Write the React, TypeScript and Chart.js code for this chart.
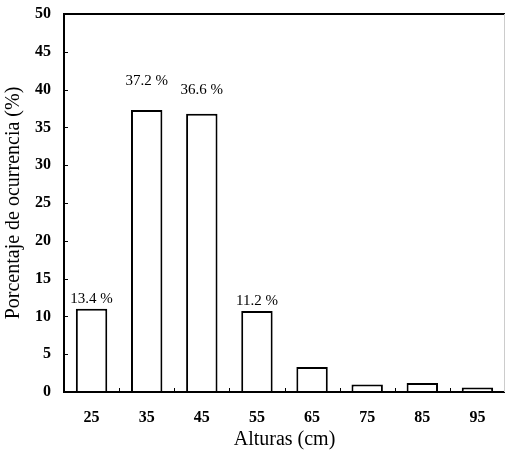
import React, { useEffect, useRef } from "react";
import { Chart, registerables } from "chart.js";

Chart.register(...registerables);

const categories = ["25", "35", "45", "55", "65", "75", "85", "95"];
const values = [11.0, 37.3, 36.8, 10.7, 3.3, 1.0, 1.2, 0.6];
const barLabels = ["13.4 %", "37.2 %", "36.6 %", "11.2 %", "", "", "", ""];
const labelAnchors = [12.3, 41.1, 40.0, 12.0, 0, 0, 0, 0];
const yTicks = [0, 5, 10, 15, 20, 25, 30, 35, 40, 45, 50];

const SERIF = "'Liberation Serif', 'Times New Roman', serif";

const framePlugin = {
  id: "frame",
  afterDatasetsDraw(chart: any) {
    const { ctx, chartArea: a, scales } = chart;
    const y = scales.y;
    const x = scales.x;
    ctx.save();
    ctx.strokeStyle = "#000";
    ctx.lineWidth = 1;
    yTicks.forEach((v) => {
      const py = Math.round(y.getPixelForValue(v)) + 0.5;
      ctx.beginPath();
      ctx.moveTo(a.left, py);
      ctx.lineTo(a.left + 4, py);
      ctx.stroke();
    });
    for (let i = 1; i < categories.length; i++) {
      const px =
        Math.round((x.getPixelForValue(i - 1) + x.getPixelForValue(i)) / 2) + 0.5;
      ctx.beginPath();
      ctx.moveTo(px, a.bottom);
      ctx.lineTo(px, a.bottom - 4);
      ctx.stroke();
    }
    ctx.lineWidth = 2;
    ctx.beginPath();
    ctx.moveTo(a.right, a.top);
    ctx.lineTo(a.left, a.top);
    ctx.lineTo(a.left, a.bottom);
    ctx.lineTo(a.right, a.bottom);
    ctx.stroke();
    ctx.strokeStyle = "#ccc";
    ctx.lineWidth = 1;
    ctx.beginPath();
    ctx.moveTo(a.right - 0.5, a.top);
    ctx.lineTo(a.right - 0.5, a.bottom);
    ctx.stroke();
    ctx.fillStyle = "#000";
    ctx.font = `15px ${SERIF}`;
    ctx.textAlign = "center";
    ctx.textBaseline = "middle";
    barLabels.forEach((t, i) => {
      if (!t) return;
      ctx.fillText(t, x.getPixelForValue(i), y.getPixelForValue(labelAnchors[i]));
    });
    ctx.restore();
  },
};

export default function App() {
  const ref = useRef<HTMLCanvasElement>(null);
  useEffect(() => {
    if (!ref.current) return;
    const chart = new Chart(ref.current, {
      type: "bar",
      data: {
        labels: categories,
        datasets: [
          {
            data: values,
            backgroundColor: "#fff",
            borderColor: "#000",
            borderWidth: 2,
            categoryPercentage: 1,
            barPercentage: 0.57,
          },
        ],
      },
      options: {
        animation: false,
        responsive: false,
        layout: { padding: { top: 14, right: 1, left: 0, bottom: 0 } },
        plugins: { legend: { display: false }, tooltip: { enabled: false } },
        scales: {
          x: {
            grid: { display: false, drawTicks: false },
            border: { display: false },
            ticks: {
              color: "#000",
              padding: 16,
              font: { family: SERIF, size: 16, weight: "bold" },
            },
            title: {
              display: true,
              text: "Alturas (cm)",
              color: "#000",
              font: { family: SERIF, size: 20 },
              padding: { top: 0, bottom: 8 },
            },
            afterFit(s: any) {
              s.height = 68;
              s.paddingLeft = 0;
              s.paddingRight = 0;
            },
          },
          y: {
            min: 0,
            max: 50,
            grid: { display: false, drawTicks: false },
            border: { display: false },
            ticks: {
              stepSize: 5,
              color: "#000",
              padding: 13,
              font: { family: SERIF, size: 16, weight: "bold" },
            },
            title: {
              display: true,
              text: "Porcentaje de ocurrencia (%)",
              color: "#000",
              font: { family: SERIF, size: 20 },
              padding: { top: 2, bottom: 0 },
            },
            afterFit(s: any) {
              s.width = 64;
              s.paddingTop = 0;
              s.paddingBottom = 0;
            },
          },
        },
      },
      plugins: [framePlugin],
    });
    return () => chart.destroy();
  }, []);
  return (
    <div style={{ position: "fixed", left: 0, top: 0, width: 506, height: 460, background: "#fff" }}>
      <canvas ref={ref} width={506} height={460} />
    </div>
  );
}
